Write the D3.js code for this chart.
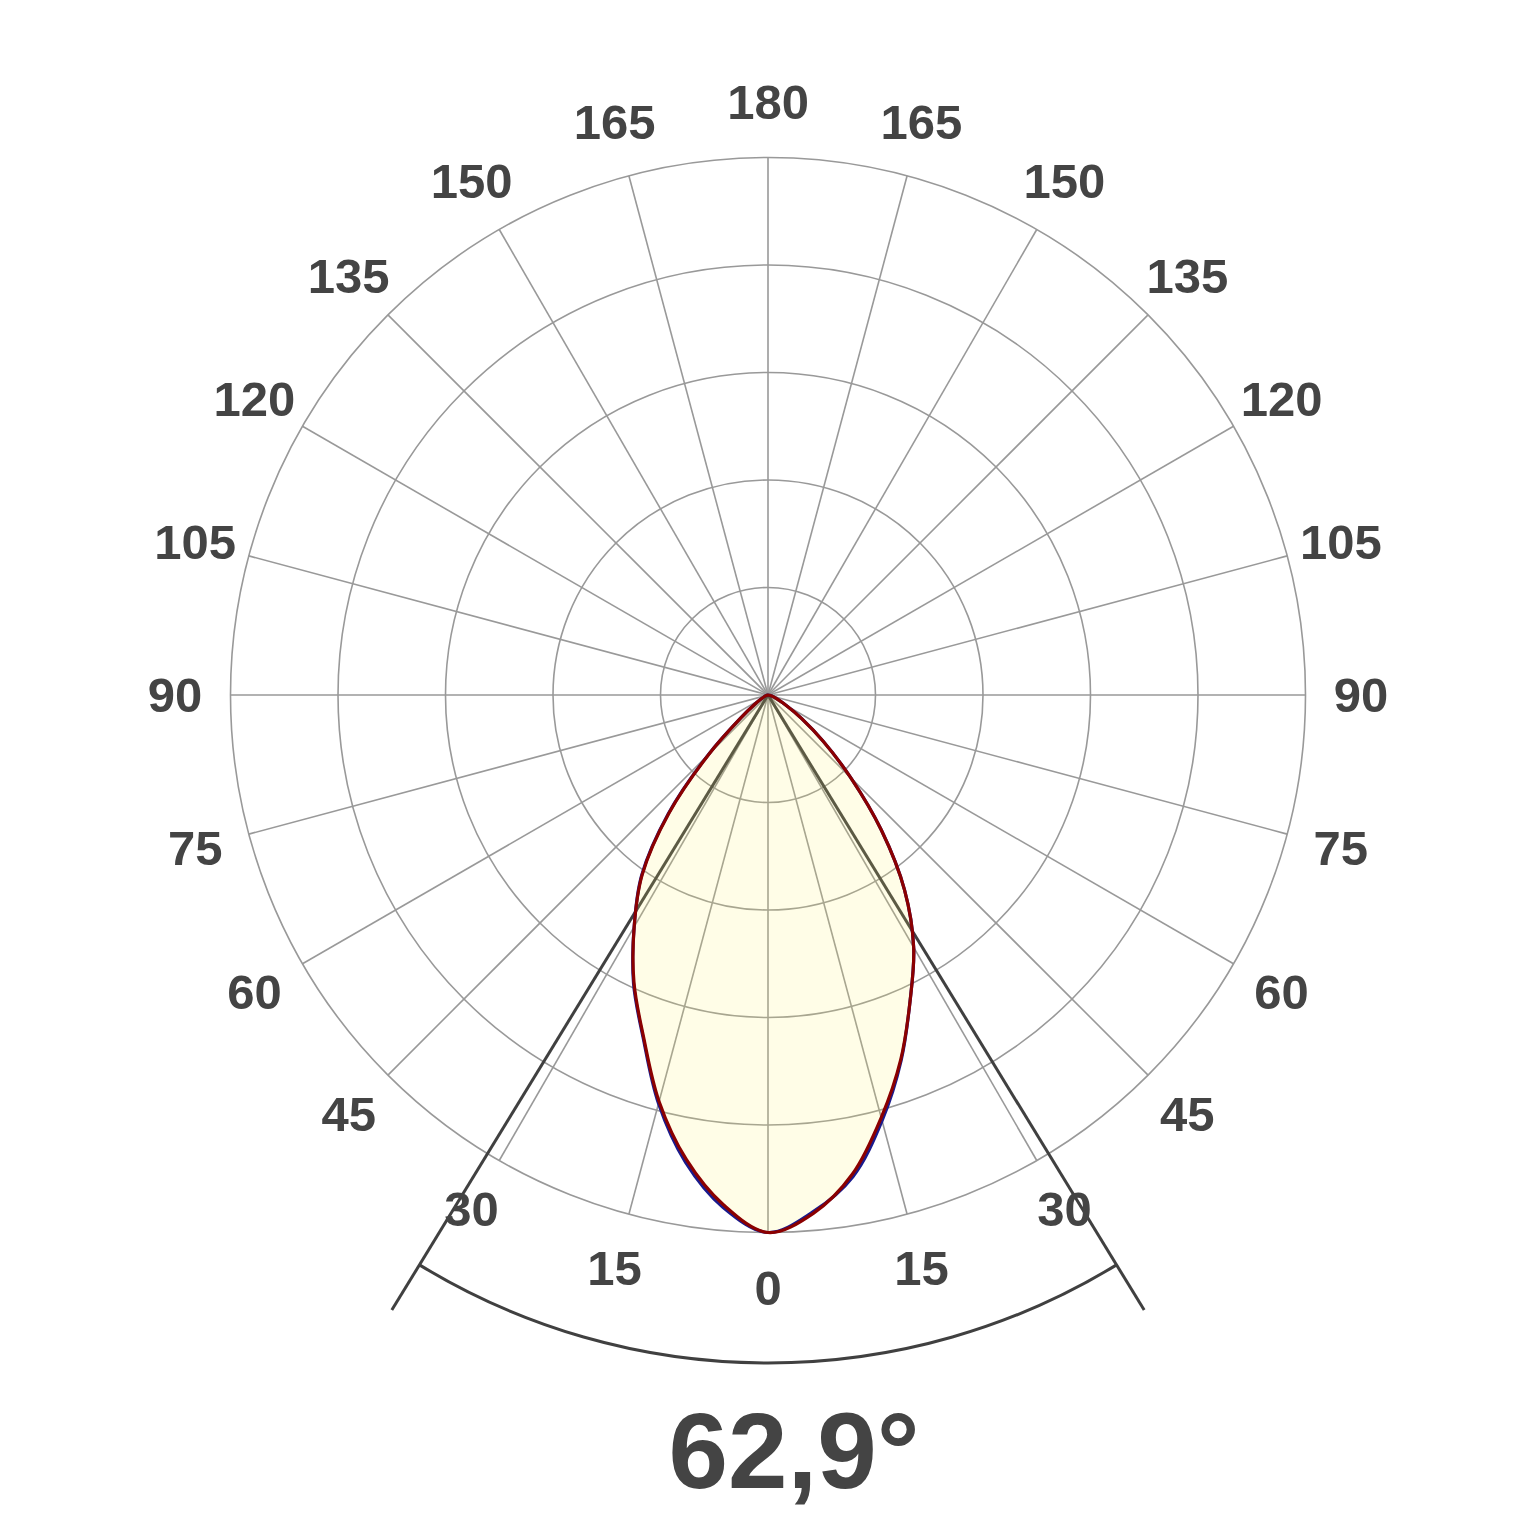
<!DOCTYPE html>
<html>
<head>
<meta charset="utf-8">
<script src="https://d3js.org/d3.v7.min.js"></script>
<style>
  body { margin: 0; background: #fff; }
  svg { display: block; }
  text { font-family: "Liberation Sans", Arial, sans-serif; font-weight: bold; fill: #444; }
</style>
</head>
<body>
<svg id="chart" width="1536" height="1536"></svg>
<script>
// gamma angles (0 = straight down) and relative intensity, both halves
var angles = [0, 5, 10, 15, 20, 25, 30, 35, 40, 45, 50, 55, 60, 70, 80, 90];
// C0-C180 plane (red)
var redLeft  = [1.0, 0.952, 0.877, 0.783, 0.677, 0.59, 0.498, 0.408, 0.286, 0.155, 0.066, 0.03, 0.015, 0.005, 0.001, 0];
var redRight = [1.0, 0.968, 0.905, 0.814, 0.722, 0.626, 0.542, 0.443, 0.328, 0.218, 0.134, 0.076, 0.04, 0.012, 0.003, 0];
// C90-C270 plane (blue)
var blueLeft  = [1.0, 0.957, 0.883, 0.787, 0.679, 0.592, 0.498, 0.41, 0.289, 0.157, 0.066, 0.03, 0.015, 0.005, 0.001, 0];
var blueRight = [1.0, 0.965, 0.91, 0.82, 0.724, 0.626, 0.542, 0.443, 0.328, 0.218, 0.134, 0.076, 0.04, 0.012, 0.003, 0];

var gridAngles = d3.range(0, 360, 15);
var rings = [0.2, 0.4, 0.6, 0.8, 1.0];
var tickLabels = [0, 15, 30, 45, 60, 75, 90, 105, 120, 135, 150, 165, 180];
var beamAngle = 62.9;
var beamLabel = "62,9°";

var cx = 768, cy = 695, R = 537.5;
var svg = d3.select("#chart");
var g = svg.append("g").attr("transform", "translate(" + cx + "," + cy + ")");

var r = d3.scaleLinear().domain([0, 1]).range([0, R]);
var rad = function(d) { return d * Math.PI / 180; };

// rings
g.selectAll(".ring").data(rings).enter().append("circle")
  .attr("r", function(d) { return r(d); })
  .attr("fill", "none").attr("stroke", "#999").attr("stroke-width", 1.6);

// spokes
g.selectAll(".spoke").data(gridAngles).enter().append("line")
  .attr("x1", 0).attr("y1", 0)
  .attr("x2", function(d) { return r(1) * Math.sin(rad(d)); })
  .attr("y2", function(d) { return r(1) * Math.cos(rad(d)); })
  .attr("stroke", "#999").attr("stroke-width", 1.6);

// beam angle lines and arc
var half = rad(beamAngle / 2);
var lineLen = 721, arcR = 668;
[-1, 1].forEach(function(s) {
  g.append("line")
    .attr("x1", 0).attr("y1", 0)
    .attr("x2", s * lineLen * Math.sin(half))
    .attr("y2", lineLen * Math.cos(half))
    .attr("stroke", "#404040").attr("stroke-width", 3);
});
g.append("path")
  .attr("d", d3.arc().innerRadius(arcR).outerRadius(arcR)
    .startAngle(Math.PI - half).endAngle(Math.PI + half)())
  .attr("fill", "none").attr("stroke", "#404040").attr("stroke-width", 3);

// build closed curve: left side 90 -> 0, then right side 0 -> 90
function points(left, right) {
  var pts = [];
  for (var i = angles.length - 1; i >= 0; i--) pts.push([Math.PI + rad(angles[i]), r(left[i])]);
  for (var j = 1; j < angles.length; j++) pts.push([Math.PI - rad(angles[j]), r(right[j])]);
  return pts;
}
var radial = d3.lineRadial()
  .angle(function(d) { return d[0]; })
  .radius(function(d) { return d[1]; })
  .curve(d3.curveCatmullRomClosed.alpha(0.5));

g.append("path").attr("d", radial(points(redLeft, redRight)))
  .attr("fill", "#fff060").attr("fill-opacity", 0.15).attr("stroke", "none");

g.append("path").attr("d", radial(points(blueLeft, blueRight)))
  .attr("fill", "none").attr("stroke", "#1a1a8c").attr("stroke-width", 3.2);
g.append("path").attr("d", radial(points(redLeft, redRight)))
  .attr("fill", "none").attr("stroke", "#8b0000").attr("stroke-width", 3.2);

// tick labels
var labelR = 593;
var labels = [];
tickLabels.forEach(function(t) {
  labels.push({ t: t, a: t });
  if (t !== 0 && t !== 180) labels.push({ t: t, a: -t });
});
g.selectAll(".lbl").data(labels).enter().append("text")
  .attr("x", function(d) { return labelR * Math.sin(rad(d.a)); })
  .attr("y", function(d) { return labelR * Math.cos(rad(d.a)); })
  .attr("text-anchor", "middle")
  .attr("dominant-baseline", "central")
  .attr("font-size", 49)
  .text(function(d) { return d.t; });

svg.append("text")
  .attr("x", 794).attr("y", 1488)
  .attr("text-anchor", "middle")
  .attr("font-size", 107)
  .text(beamLabel);
</script>
</body>
</html>
